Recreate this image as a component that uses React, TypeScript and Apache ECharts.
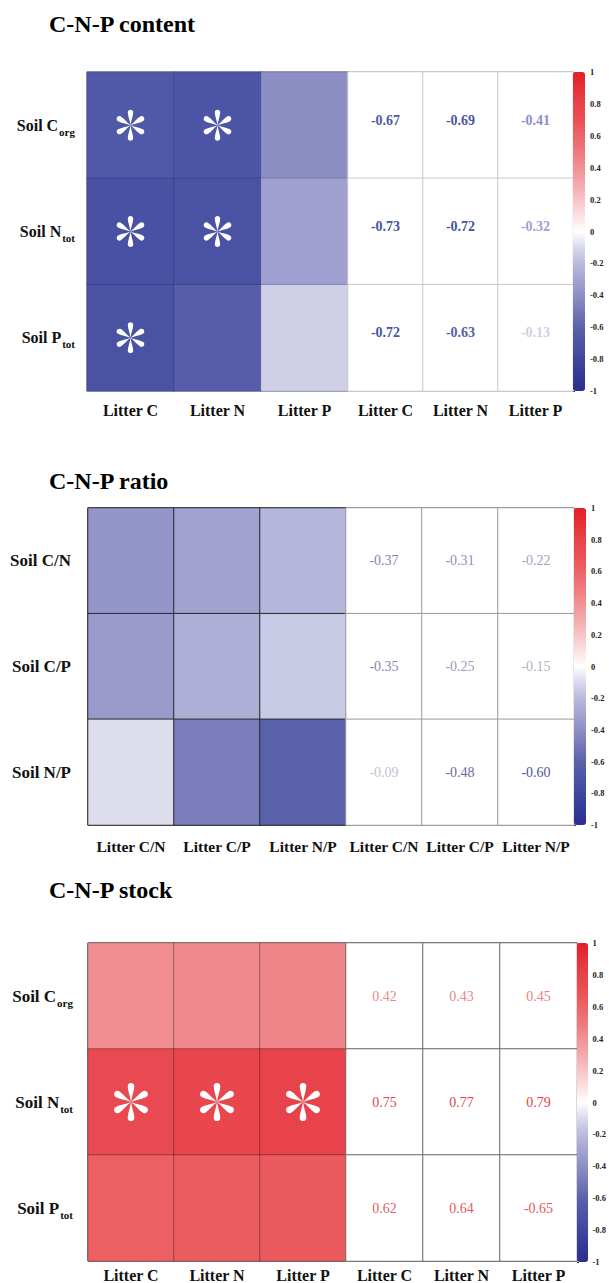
import React, { useEffect, useRef } from "react";
import * as echarts from "echarts";

// ---------- data ----------
const titles = ["C-N-P content", "C-N-P ratio", "C-N-P stock"];

const contentCols = ["Litter C", "Litter N", "Litter P"];
const contentRowMain = ["Soil C", "Soil N", "Soil P"];
const contentRowSub = ["org", "tot", "tot"];
const contentValues = [
  [-0.67, -0.69, -0.41],
  [-0.73, -0.72, -0.32],
  [-0.72, -0.63, -0.13],
];
const contentSig = [
  [1, 1, 0],
  [1, 1, 0],
  [1, 0, 0],
];

const ratioCols = ["Litter C/N", "Litter C/P", "Litter N/P"];
const ratioRowMain = ["Soil C/N", "Soil C/P", "Soil N/P"];
const ratioRowSub = ["", "", ""];
const ratioValues = [
  [-0.37, -0.31, -0.22],
  [-0.35, -0.25, -0.15],
  [-0.09, -0.48, -0.6],
];
const ratioSig = [
  [0, 0, 0],
  [0, 0, 0],
  [0, 0, 0],
];

const stockCols = ["Litter C", "Litter N", "Litter P"];
const stockRowMain = ["Soil C", "Soil N", "Soil P"];
const stockRowSub = ["org", "tot", "tot"];
const stockValues = [
  [0.42, 0.43, 0.45],
  [0.75, 0.77, 0.79],
  [0.62, 0.64, 0.65],
];
const stockLabels = [
  ["0.42", "0.43", "0.45"],
  ["0.75", "0.77", "0.79"],
  ["0.62", "0.64", "-0.65"],
];
const stockSig = [
  [0, 0, 0],
  [1, 1, 1],
  [0, 0, 0],
];

// colour scale stops from -1 to 1, step 0.1
const colorStops = [
  "#2b2f8f", "#343a96", "#3f479d", "#4c55a5", "#5a61ab", "#7677b8",
  "#8e90c5", "#a3a4d1", "#b9badd", "#d9d9ec", "#ffffff",
  "#fbe0e1", "#f8c4c6", "#f4a8ab", "#f19295", "#ee787c",
  "#ec6468", "#ea5055", "#e8424a", "#e53137", "#e31e24",
];

const SERIF = "'Liberation Serif', 'Times New Roman', serif";

function hexToRgb(h: string) {
  const n = parseInt(h.slice(1), 16);
  return [(n >> 16) & 255, (n >> 8) & 255, n & 255];
}
function colorFor(v: number, darken: number) {
  const t = Math.max(0, Math.min(20, (v + 1) * 10));
  const i = Math.min(19, Math.floor(t));
  const f = t - i;
  const a = hexToRgb(colorStops[i]);
  const b = hexToRgb(colorStops[i + 1]);
  const c = a.map((x, k) => Math.round((x + (b[k] - x) * f) * darken));
  return `rgb(${c[0]},${c[1]},${c[2]})`;
}

function asteriskPath() {
  const petal = [
    [0, 0], [-0.04, -0.3], [-0.16, -0.55], [-0.17, -0.8],
    [-0.18, -1.03], [0.18, -1.03], [0.17, -0.8],
    [0.16, -0.55], [0.04, -0.3], [0, 0],
  ];
  let d = "";
  for (let k = 0; k < 6; k++) {
    const a = (k * Math.PI) / 3;
    const c = Math.cos(a);
    const s = Math.sin(a);
    const p = petal.map(([x, y]) => [(x * c - y * s) * 50 + 50, (x * s + y * c) * 50 + 50]);
    const f = (q: number[]) => q[0].toFixed(2) + " " + q[1].toFixed(2);
    d += `M${f(p[0])} C${f(p[1])} ${f(p[2])} ${f(p[3])} C${f(p[4])} ${f(p[5])} ${f(p[6])} C${f(p[7])} ${f(p[8])} ${f(p[9])} Z `;
  }
  return "path://" + d;
}

type PanelCfg = {
  title: string;
  titleTop: number;
  cols: string[];
  rowMain: string[];
  rowSub: string[];
  values: number[][];
  labels?: string[][];
  sig: number[][];
  left: number;
  mid: number;
  right: number;
  top: number;
  bottom: number;
  barW: number;
  leftBorder: string;
  rightBorder: string;
  frame: string;
  valueBold: boolean;
  valueDarken: number;
  valueOffsetY: number;
  rowFont: number;
  xFont: number;
  xMargin: number;
  yMargin: number;
  starSize: number;
};

const panels: PanelCfg[] = [
  {
    title: titles[0], titleTop: 12, cols: contentCols, rowMain: contentRowMain, rowSub: contentRowSub,
    values: contentValues, sig: contentSig,
    left: 87, mid: 348, right: 573, top: 72, bottom: 391, barW: 12,
    leftBorder: "rgba(30,30,90,0.25)", rightBorder: "#c8c8c8", frame: "#777",
    valueBold: true, valueDarken: 1, valueOffsetY: -5, rowFont: 16, xFont: 16, xMargin: 11, yMargin: 12, starSize: 31,
  },
  {
    title: titles[1], titleTop: 469, cols: ratioCols, rowMain: ratioRowMain, rowSub: ratioRowSub,
    values: ratioValues, sig: ratioSig,
    left: 88, mid: 346, right: 574, top: 508, bottom: 825, barW: 12,
    leftBorder: "#2a2a2a", rightBorder: "#9a9a9a", frame: "#222",
    valueBold: false, valueDarken: 0.88, valueOffsetY: 0, rowFont: 17, xFont: 15.5, xMargin: 13, yMargin: 17, starSize: 31,
  },
  {
    title: titles[2], titleTop: 878, cols: stockCols, rowMain: stockRowMain, rowSub: stockRowSub,
    values: stockValues, labels: stockLabels, sig: stockSig,
    left: 88, mid: 346, right: 577, top: 943, bottom: 1262, barW: 11,
    leftBorder: "rgba(0,0,0,0.3)", rightBorder: "#6a6a6a", frame: "#222",
    valueBold: false, valueDarken: 0.97, valueOffsetY: 0, rowFont: 17, xFont: 16, xMargin: 6, yMargin: 15, starSize: 38,
  },
];

function buildOption() {
  const star = asteriskPath();
  const title: any[] = [];
  const grid: any[] = [];
  const xAxis: any[] = [];
  const yAxis: any[] = [];
  const series: any[] = [];
  const visualMap: any[] = [];

  panels.forEach((p) => {
    title.push({
      text: p.title,
      left: 49,
      top: p.titleTop,
      padding: 0,
      textStyle: { fontFamily: SERIF, fontWeight: "bold", fontSize: 24, color: "#000" },
    });
    const g0 = grid.length;
    const h = p.bottom - p.top;
    grid.push(
      { left: p.left, top: p.top, width: p.mid - p.left, height: h, show: true, borderColor: p.frame, borderWidth: 1, containLabel: false },
      { left: p.mid, top: p.top, width: p.right - p.mid, height: h, show: true, borderColor: p.frame, borderWidth: 1, containLabel: false },
      { left: p.right, top: p.top, width: p.barW, height: h, show: false, containLabel: false }
    );
    const rowNames = p.rowMain.map((m, i) => m + p.rowSub[i]);
    const xLabel = {
      fontFamily: SERIF, fontWeight: "bold", fontSize: p.xFont, color: "#111", margin: p.xMargin,
      interval: 0, hideOverlap: false,
    };
    // left grid axes
    xAxis.push({
      type: "category", gridIndex: g0, data: p.cols,
      axisLine: { show: false }, axisTick: { show: false }, splitLine: { show: false },
      axisLabel: xLabel,
    });
    yAxis.push({
      type: "category", gridIndex: g0, data: rowNames, inverse: true,
      axisLine: { show: false }, axisTick: { show: false }, splitLine: { show: false },
      axisLabel: {
        margin: p.yMargin,
        interval: 0,
        formatter: (_v: string, i: number) =>
          p.rowSub[i] ? `{a|${p.rowMain[i]}}{b|${p.rowSub[i]}}` : `{a|${p.rowMain[i]}}`,
        rich: {
          a: { fontFamily: SERIF, fontWeight: "bold", fontSize: p.rowFont, color: "#111" },
          b: { fontFamily: SERIF, fontWeight: "bold", fontSize: 11, color: "#111", padding: [13, 0, 0, 1] },
        },
      },
    });
    // right grid axes
    xAxis.push({
      type: "category", gridIndex: g0 + 1, data: p.cols,
      axisLine: { show: false }, axisTick: { show: false }, splitLine: { show: false },
      axisLabel: xLabel,
    });
    yAxis.push({
      type: "category", gridIndex: g0 + 1, data: rowNames, inverse: true, show: false,
    });
    // colour bar axes
    xAxis.push({ type: "value", gridIndex: g0 + 2, show: false, min: 0, max: 1 });
    yAxis.push({
      type: "value", gridIndex: g0 + 2, min: -1, max: 1, interval: 0.2, position: "right",
      axisLine: { show: false },
      axisTick: { show: true, length: 2, lineStyle: { color: "#333", width: 1 } },
      splitLine: { show: false },
      axisLabel: { fontFamily: SERIF, fontWeight: "bold", fontSize: 8.5, color: "#222", margin: 5 },
    });

    const heatData: any[] = [];
    const starData: any[] = [];
    const rightData: any[] = [];
    p.values.forEach((row, r) =>
      row.forEach((v, c) => {
        heatData.push([c, r, v]);
        if (p.sig[r][c]) starData.push([c, r]);
        rightData.push({
          value: [c, r, v],
          label: { color: colorFor(v, p.valueDarken) },
        });
      })
    );
    const sIdx = series.length;
    series.push({
      type: "heatmap", xAxisIndex: g0, yAxisIndex: g0, data: heatData,
      itemStyle: { borderColor: p.leftBorder, borderWidth: 1 },
      label: { show: false }, emphasis: { disabled: true }, silent: true,
    });
    series.push({
      type: "scatter", xAxisIndex: g0, yAxisIndex: g0, data: starData,
      symbol: star, symbolSize: p.starSize, symbolKeepAspect: true,
      itemStyle: { color: "#ffffff", opacity: 1 }, silent: true, z: 5,
    });
    series.push({
      type: "heatmap", xAxisIndex: g0 + 1, yAxisIndex: g0 + 1, data: rightData,
      itemStyle: { borderColor: p.rightBorder, borderWidth: 1 },
      label: {
        show: true,
        fontFamily: SERIF,
        fontSize: 14,
        fontWeight: p.valueBold ? "bold" : "normal",
        offset: [0, p.valueOffsetY],
        formatter: (params: any) => {
          const [c, r, v] = params.value;
          return p.labels ? p.labels[r][c] : v.toFixed(2);
        },
      },
      emphasis: { disabled: true }, silent: true,
    });
    visualMap.push({
      type: "continuous", min: -1, max: 1, seriesIndex: sIdx, calculable: false,
      left: p.right, top: p.top, itemWidth: p.barW, itemHeight: h, padding: 0,
      hoverLink: false, inRange: { color: colorStops },
      textStyle: { fontSize: 0 },
    });
    visualMap.push({
      type: "continuous", min: -1, max: 1, seriesIndex: sIdx + 2, show: false,
      inRange: { color: ["#ffffff", "#ffffff"] },
    });
  });

  return { animation: false, backgroundColor: "#ffffff", title, grid, xAxis, yAxis, series, visualMap };
}

export default function App() {
  const ref = useRef<HTMLDivElement>(null);
  useEffect(() => {
    document.body.style.margin = "0";
    const chart = echarts.init(ref.current!, undefined, { renderer: "svg" });
    chart.setOption(buildOption() as any);
    return () => chart.dispose();
  }, []);
  return <div ref={ref} style={{ width: 609, height: 1283 }} />;
}
